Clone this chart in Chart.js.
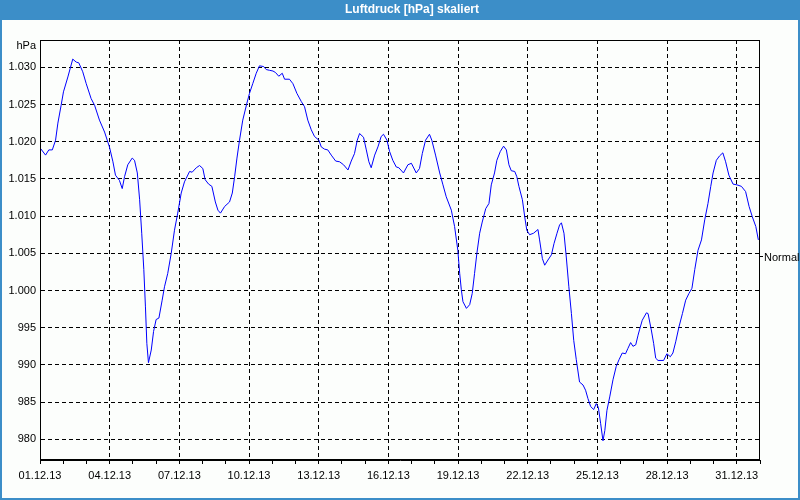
<!DOCTYPE html>
<html>
<head>
<meta charset="utf-8">
<script src="https://cdn.jsdelivr.net/npm/chart.js@4.4.1/dist/chart.umd.min.js"></script>
<style>
html,body{margin:0;padding:0;background:#fcfefc;}
canvas{display:block;}
</style>
</head>
<body>
<canvas id="c" width="800" height="500"></canvas>
<script>
// Time in days since 01.12.13 00:00
const days = [0.02,0.24,0.38,0.53,0.67,0.77,0.91,1.01,1.20,1.41,1.56,1.67,1.84,1.99,2.20,2.35,2.56,2.78,2.99,3.14,3.25,3.42,3.54,3.64,3.78,3.97,4.07,4.19,4.29,4.38,4.47,4.54,4.60,4.67,4.79,4.89,5.00,5.12,
5.26,5.36,5.50,5.65,5.79,5.93,6.08,6.22,6.44,6.55,6.73,6.87,7.01,7.11,7.26,7.40,7.55,7.66,7.77,7.95,8.16,8.28,8.38,8.48,8.59,8.73,8.91,9.02,9.16,9.31,9.45,9.63,9.74,9.88,10.03,10.14,10.28,
10.43,10.53,10.74,10.89,11.06,11.25,11.39,11.53,11.68,11.82,12.01,12.11,12.25,12.39,12.54,12.73,12.90,13.07,13.26,13.40,13.54,13.66,13.76,13.93,14.05,14.16,14.26,14.41,14.55,14.69,14.79,14.94,15.05,15.19,15.34,15.45,
15.65,15.84,15.99,16.20,16.34,16.46,16.60,16.77,16.87,17.03,17.21,17.35,17.49,17.71,17.85,17.99,18.07,18.14,18.21,18.36,18.50,18.61,18.71,18.81,18.93,19.04,19.19,19.33,19.43,19.57,19.67,19.82,19.96,20.08,20.19,20.29,20.44,20.53,20.62,
20.77,20.87,20.96,21.08,21.25,21.44,21.51,21.63,21.73,21.87,22.02,22.13,22.26,22.37,22.45,22.56,22.66,22.77,22.88,22.98,23.09,23.23,23.38,23.49,23.59,23.71,23.84,23.95,24.04,24.14,24.24,24.32,24.41,24.53,24.67,24.81,24.93,25.07,25.21,25.31,25.43,25.53,25.65,25.75,
25.82,25.93,26.11,26.18,26.32,26.42,26.51,26.61,26.85,26.99,27.14,27.25,27.37,27.51,27.66,27.80,27.94,28.07,28.19,28.33,28.48,28.62,28.76,28.88,28.98,29.12,29.26,29.40,29.52,29.66,29.84,30.01,30.20,30.38,30.53,30.67,30.82,30.93];
// Pressure in hPa
const pressure = [1019.1,1018.2,1018.9,1018.9,1020.2,1022.5,1024.9,1026.7,1028.7,1031.1,1030.7,1030.6,1029.4,1027.8,1025.8,1024.9,1022.9,1021.3,1019.3,1017.3,1015.5,1014.8,1013.7,1015.3,1016.9,1017.8,1017.5,1015.8,1012.2,1007.7,1002.8,997.8,992.9,990.3,992.0,994.5,996.1,996.3,
998.7,1000.5,1002.3,1005.0,1008.1,1010.4,1013.1,1014.6,1016.0,1015.9,1016.5,1016.8,1016.4,1014.9,1014.3,1014.0,1011.9,1010.8,1010.4,1011.3,1011.9,1013.1,1015.3,1017.8,1020.2,1022.9,1025.2,1026.5,1027.8,1029.2,1030.2,1030.1,1029.7,1029.6,1029.5,1029.3,1028.8,
1029.2,1028.4,1028.4,1027.8,1026.5,1025.4,1024.7,1022.9,1021.6,1020.7,1020.2,1019.3,1019.0,1018.9,1018.2,1017.4,1017.3,1016.9,1016.2,1017.4,1018.4,1020.2,1021.1,1020.6,1018.9,1017.3,1016.5,1018.2,1019.3,1020.7,1021.0,1020.2,1018.7,1017.5,1016.6,1016.5,
1015.8,1016.9,1017.1,1015.8,1016.4,1018.4,1020.2,1021.0,1020.2,1018.2,1015.8,1014.2,1012.6,1010.8,1008.6,1005.4,1002.3,1000.1,998.5,997.6,998.1,999.6,1002.3,1005.0,1007.7,1009.2,1011.0,1011.7,1014.2,1015.8,1017.5,1018.7,1019.4,1018.9,1016.9,1016.1,1016.0,1015.3,1014.0,
1012.2,1009.9,1008.1,1007.5,1007.7,1008.2,1006.8,1004.3,1003.4,1004.1,1004.8,1006.3,1007.7,1008.8,1009.1,1007.7,1004.5,1000.5,996.9,993.3,990.7,987.7,987.3,986.6,985.5,984.4,984.0,984.8,984.3,982.1,979.8,981.2,983.9,985.7,988.0,989.8,990.7,991.6,991.5,992.2,993.0,992.5,992.7,994.0,
994.8,996.0,997.0,996.9,994.7,992.9,990.9,990.6,990.6,991.5,991.1,991.6,993.1,995.1,996.9,998.7,999.6,1000.3,1002.8,1005.4,1006.8,1009.5,1011.7,1014.0,1015.8,1017.5,1018.1,1018.5,1017.3,1015.5,1014.3,1014.2,1014.0,1013.3,1011.3,1009.9,1008.6,1006.8];

const xTickDays = [0,3,6,9,12,15,18,21,24,27,30];
const xTickLabels = ['01.12.13','04.12.13','07.12.13','10.12.13','13.12.13','16.12.13','19.12.13','22.12.13','25.12.13','28.12.13','31.12.13'];
const yTickValues = [980,985,990,995,1000,1005,1010,1015,1020,1025,1030];
const yTickLabels = ['980','985','990','995','1.000','1.005','1.010','1.015','1.020','1.025','1.030'];
const normalValue = 1004.6;
const titleText = 'Luftdruck [hPa] skaliert';
const unitText = 'hPa';
const normalText = 'Normal';

const FONT = 'Liberation Sans, Arial, sans-serif';
const BLUE = '#3c8ec8';

const deco = {
  id: 'deco',
  beforeDraw(chart) {
    const ctx = chart.ctx;
    ctx.save();
    ctx.fillStyle = '#fcfefc';
    ctx.fillRect(0, 0, 800, 500);
    ctx.fillStyle = BLUE;
    ctx.fillRect(0, 0, 800, 20);
    ctx.strokeStyle = BLUE;
    ctx.lineWidth = 2;
    ctx.strokeRect(1, 1, 798, 498);
    ctx.fillStyle = '#ffffff';
    ctx.font = 'bold 12px ' + FONT;
    ctx.textAlign = 'center';
    ctx.textBaseline = 'middle';
    ctx.fillText(titleText, 412, 10);
    ctx.restore();
  },
  afterDraw(chart) {
    const ctx = chart.ctx;
    const a = chart.chartArea;
    ctx.save();
    ctx.strokeStyle = '#000';
    ctx.lineWidth = 1;
    ctx.strokeRect(Math.round(a.left) + 0.5, Math.round(a.top) + 0.5, Math.round(a.right - a.left) - 1, Math.round(a.bottom - a.top) - 1);
    ctx.fillStyle = '#000';
    ctx.font = '11px ' + FONT;
    ctx.textAlign = 'right';
    ctx.textBaseline = 'middle';
    ctx.fillText(unitText, 36, 46);
    const yn = Math.round(chart.scales.y.getPixelForValue(normalValue)) + 0.5;
    ctx.beginPath();
    ctx.moveTo(a.right, yn);
    ctx.lineTo(a.right + 3, yn);
    ctx.stroke();
    ctx.textAlign = 'left';
    ctx.fillText(normalText, a.right + 4, yn + 1);
    ctx.restore();
  }
};

new Chart(document.getElementById('c'), {
  type: 'line',
  data: {
    datasets: [{
      data: days.map((d, i) => ({ x: d, y: pressure[i] })),
      borderColor: '#0000ff',
      borderWidth: 1,
      pointRadius: 0,
      tension: 0,
      fill: false
    }]
  },
  options: {
    responsive: false,
    animation: false,
    devicePixelRatio: 1,
    layout: { padding: { top: 40, right: 40, left: 0, bottom: 0 } },
    plugins: { legend: { display: false }, tooltip: { enabled: false }, title: { display: false } },
    scales: {
      x: {
        type: 'linear',
        min: 0,
        max: 31,
        afterBuildTicks(axis) {
          const t = [];
          for (let i = 0; i <= 31; i++) t.push({ value: i });
          axis.ticks = t;
        },
        afterFit(scale) { scale.height = 40; },
        grid: {
          color: (c) => (c.tick && xTickDays.includes(c.tick.value) && c.tick.value !== 0) ? '#000' : 'rgba(0,0,0,0)',
          tickColor: '#000',
          tickLength: 4,
          lineWidth: 1,
          drawOnChartArea: true,
          drawTicks: true
        },
        border: { display: true, color: '#000', width: 1, dash: [4, 3] },
        ticks: {
          autoSkip: false,
          maxRotation: 0,
          padding: 5,
          color: '#000',
          font: { family: FONT, size: 11 },
          callback: (v) => { const i = xTickDays.indexOf(v); return i >= 0 ? xTickLabels[i] : ''; }
        }
      },
      y: {
        type: 'linear',
        min: 977.22,
        max: 1033.67,
        afterBuildTicks(axis) { axis.ticks = yTickValues.map(v => ({ value: v })); },
        afterFit(scale) { scale.width = 40; },
        grid: { color: '#000', lineWidth: 1, drawTicks: false },
        border: { display: true, color: '#000', width: 1, dash: [4, 3] },
        ticks: {
          padding: 4,
          color: '#000',
          font: { family: FONT, size: 11 },
          callback: (v) => { const i = yTickValues.indexOf(v); return i >= 0 ? yTickLabels[i] : ''; }
        }
      }
    }
  },
  plugins: [deco]
});
</script>
</body>
</html>
